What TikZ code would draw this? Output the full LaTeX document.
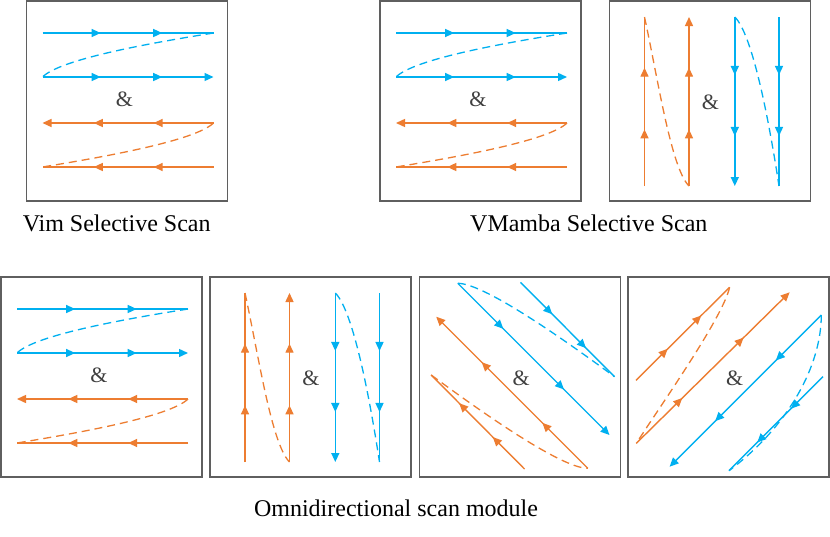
\documentclass[tikz,border=0pt]{standalone}
\usepackage{fontspec}
\setmainfont{Liberation Serif}
\usetikzlibrary{arrows.meta,decorations.markings}
\definecolor{sblue}{RGB}{0,176,240}
\definecolor{sorange}{RGB}{237,125,49}
\definecolor{framegray}{RGB}{95,95,95}
\definecolor{ampgray}{RGB}{64,64,64}
\tikzset{
  boxline/.style={draw=framegray, line width=1.6pt},
  scanb/.style={sblue, line width=1.4pt},
  scano/.style={sorange, line width=1.4pt},
  jump/.style={line width=1.3pt, dash pattern=on 8pt off 5pt},
  endarrow/.style={-{Triangle[length=9pt,width=8pt]}},
  mids/.style 2 args={postaction={decorate}, decoration={markings,
      mark=at position #1 with {\arrow{Triangle[length=9pt,width=8pt]}},
      mark=at position #2 with {\arrow{Triangle[length=9pt,width=8pt]}}}},
  ampsign/.style={text=ampgray, font=\fontsize{22}{24}\selectfont, inner sep=0pt},
  caption/.style={font=\fontsize{24}{28}\selectfont, inner sep=0pt, anchor=base},
  hscan/.pic={
    \draw[boxline] (0,0) rectangle (201,200);
    \coordinate (-b1s) at (16,32);  \coordinate (-b1e) at (187,32);
    \coordinate (-b2s) at (16,76);  \coordinate (-b2e) at (187,76);
    \coordinate (-o1s) at (187,122); \coordinate (-o1e) at (16,122);
    \coordinate (-o2s) at (187,166); \coordinate (-o2e) at (16,166);
    \draw[scanb, mids={0.34}{0.70}] (-b1s) -- (-b1e);
    \draw[scanb, jump] (-b1e) .. controls (124,42) and (34,58) .. (-b2s);
    \draw[scanb, endarrow, mids={0.34}{0.70}] (-b2s) -- (-b2e);
    \node[ampsign] (-amp) at (98,98) {\&};
    \draw[scano, endarrow, mids={0.35}{0.70}] (-o1s) -- (-o1e);
    \draw[scano, jump] (-o1s) .. controls (168.7,139.7) and (78.7,155.7) .. (-o2e);
    \draw[scano, mids={0.35}{0.70}] (-o2s) -- (-o2e);
  },
  vscan/.pic={
    \draw[boxline] (0,0) rectangle (201,200);
    \coordinate (-o1s) at (35,185);   \coordinate (-o1e) at (35,16);
    \coordinate (-o2s) at (79.5,185); \coordinate (-o2e) at (79.5,16);
    \coordinate (-b1s) at (125.3,16); \coordinate (-b1e) at (125.3,185);
    \coordinate (-b2s) at (169.5,16); \coordinate (-b2e) at (169.5,185);
    \draw[scano, mids={0.335}{0.70}] (-o1s) -- (-o1e);
    \draw[scano, jump] (-o1e) .. controls (48.5,78) and (61.5,167) .. (-o2s);
    \draw[scano, endarrow, mids={0.335}{0.70}] (-o2s) -- (-o2e);
    \node[ampsign] (-amp) at (101,101) {\&};
    \draw[scanb, endarrow, mids={0.343}{0.704}] (-b1s) -- (-b1e);
    \draw[scanb, jump] (-b1s) .. controls (143.5,34) and (160,123) .. (-b2e);
    \draw[scanb, mids={0.343}{0.704}] (-b2s) -- (-b2e);
  },
  dscan/.pic={
    \draw[boxline] (0,0) rectangle (201,200);
    \coordinate (-b1s) at (38.3,6.3);   \coordinate (-b1e) at (190,158);
    \coordinate (-b2s) at (101,5.3);    \coordinate (-b2e) at (195,99.7);
    \coordinate (-o1s) at (168.3,191.3);\coordinate (-o1e) at (16.7,39.7);
    \coordinate (-o2s) at (105,192);    \coordinate (-o2e) at (11.7,98);
    \draw[scanb, endarrow, mids={0.30}{0.70}] (-b1s) -- (-b1e);
    \draw[scanb, mids={0.34}{0.70}] (-b2s) -- (-b2e);
    \draw[scanb, jump] (-b1s) .. controls (64.4,6.4) and (142.1,60.7) .. (-b2e);
    \node[ampsign] (-amp) at (101.7,101.3) {\&};
    \draw[scano, endarrow, mids={0.30}{0.70}] (-o1s) -- (-o1e);
    \draw[scano, mids={0.34}{0.70}] (-o2s) -- (-o2e);
    \draw[scano, jump] (-o2e) .. controls (64.6,137) and (142.3,191.3) .. (-o1s);
  },
  ascan/.pic={
    \draw[boxline] (0,0) rectangle (201,200);
    \coordinate (-o1s) at (8,103.3);    \coordinate (-o1e) at (101.6,10.3);
    \coordinate (-o2s) at (8.3,166.3);  \coordinate (-o2e) at (161.6,15.3);
    \coordinate (-b1s) at (193.3,38);   \coordinate (-b1e) at (41.6,189.7);
    \coordinate (-b2s) at (195,99.7);   \coordinate (-b2e) at (101,193.7);
    \draw[scano, mids={0.34}{0.70}] (-o1s) -- (-o1e);
    \draw[scano, endarrow, mids={0.30}{0.70}] (-o2s) -- (-o2e);
    \draw[scano, jump] (-o1e) .. controls (95,40) and (35,125) .. (-o2s);
    \node[ampsign] (-amp) at (106.6,101.3) {\&};
    \draw[scanb, endarrow, mids={0.30}{0.70}] (-b1s) -- (-b1e);
    \draw[scanb, mids={0.34}{0.70}] (-b2s) -- (-b2e);
    \draw[scanb, jump] (-b1s) .. controls (193.3,87.7) and (161.6,148.3) .. (-b2e);
  },
}
\begin{document}
\begin{tikzpicture}[x=1pt, y=-1pt]
  \useasboundingbox[fill=white] (0,0) rectangle (830,536);
  \pic (vim) at (26.5,1) {hscan};
  \pic (vmh) at (380,1) {hscan};
  \pic (vmv) at (609.5,1) {vscan};
  \pic (oh) at (1,277) {hscan};
  \pic (ov) at (210,277) {vscan};
  \pic (od) at (419.5,277) {dscan};
  \pic (oa) at (628,277) {ascan};
  \node[caption] (capvim) at (116.7,231.7) {Vim Selective Scan};
  \node[caption] (capvm) at (588.8,231.7) {VMamba Selective Scan};
  \node[caption] (capomni) at (396,516) {Omnidirectional scan module};
\end{tikzpicture}
\end{document}
